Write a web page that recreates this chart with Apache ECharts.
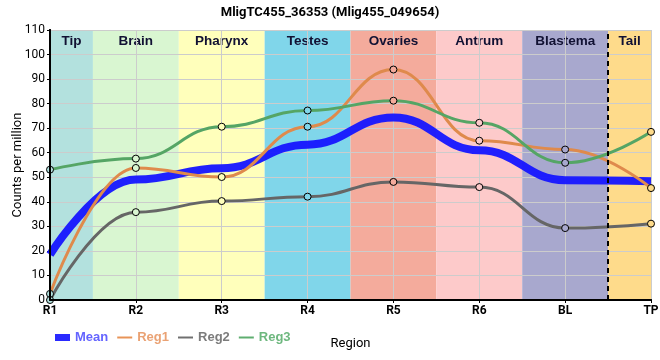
<!DOCTYPE html>
<html><head><meta charset="utf-8">
<script src="https://cdn.jsdelivr.net/npm/echarts@6/dist/echarts.min.js"></script>
<style>html,body{margin:0;padding:0;background:#fff}#c{width:660px;height:360px}</style>
</head><body><div id="c"></div>
<script>
var categories = ['R1','R2','R3','R4','R5','R6','BL','TP'];
var meanVals = [18.5, 49.1, 53.7, 63.3, 74.4, 61.0, 48.8, 48.4];
var reg1Vals = [2.5, 53.8, 50.1, 70.6, 93.9, 64.9, 61.3, 45.6];
var reg2Vals = [0, 35.8, 40.3, 42.1, 48.1, 46.0, 29.3, 31.1];
var reg3Vals = [53.1, 57.6, 70.6, 77.2, 81.2, 72.2, 55.9, 68.5];
var regions = ['Tip','Brain','Pharynx','Testes','Ovaries','Antrum','Blastema','Tail'];
var regionColors = ['#b3e1de','#d9f6d1','#ffffbb','#80d6ea','#f4ab9c','#fdcaca','#a8a8ce','#fedb8b'];

function pts(v){ return v.map(function(y,i){ return [i,y]; }); }

var bands = regions.map(function(r,i){
  return [{name:r, xAxis: Math.max(0,i-0.5), itemStyle:{color:regionColors[i]}},
          {xAxis: Math.min(categories.length-1, i+0.5)}];
});

var chart = echarts.init(document.getElementById('c'), null, {renderer:'canvas'});
var axisFont = {color:'#000', fontFamily:'Roboto, Arial, sans-serif', fontWeight:'bold', fontSize:12};
var markerStyle = {color:function(p){ return regionColors[p.dataIndex]; }, borderColor:'#000', borderWidth:1, opacity:1};
chart.setOption({
  animation:false,
  title:{text:'MligTC455_36353 (Mlig455_049654)', left:'center', top:1,
    textStyle:{fontSize:13, fontWeight:'bold', color:'#000', fontFamily:'Roboto, Arial, sans-serif'}},
  grid:{left:50, right:9, top:30, bottom:60, containLabel:false, outerBoundsMode:'none'},
  legend:{left:50, top:326, itemWidth:15, itemHeight:7, itemGap:9,
    textStyle:{fontSize:13, fontWeight:'bold', fontFamily:'Arial, "Liberation Sans", sans-serif'},
    data:[
      {name:'Mean', icon:'rect', itemStyle:{color:'#2a2aff', borderWidth:0}, textStyle:{color:'#6464ff'}},
      {name:'Reg1', icon:'path://M0 0H30V4H0Z', itemStyle:{color:'#e89458', borderWidth:0}, textStyle:{color:'#eaa274'}},
      {name:'Reg2', icon:'path://M0 0H30V4H0Z', itemStyle:{color:'#707070', borderWidth:0}, textStyle:{color:'#7c7c7c'}},
      {name:'Reg3', icon:'path://M0 0H30V4H0Z', itemStyle:{color:'#5fae70', borderWidth:0}, textStyle:{color:'#6eb87f'}}
    ]},
  xAxis:[{type:'value', min:0, max:categories.length-1, interval:1,
    name:'Region', nameLocation:'middle', nameGap:37, nameMoveOverlap:false,
    nameTextStyle:{color:'#000', fontSize:13, fontFamily:'Roboto, Arial, sans-serif'},
    axisLine:{show:true, onZero:false, lineStyle:{color:'#000', width:2}},
    axisTick:{show:true, length:3, lineStyle:{color:'#000'}},
    axisLabel:Object.assign({formatter:function(v){return categories[v]||'';}, margin:5}, axisFont),
    splitLine:{show:true, lineStyle:{color:'#cccccc', width:1}}, z:1},
    {type:'value', position:'top', min:0, max:categories.length-1,
     axisLine:{show:true, lineStyle:{color:'#000', width:2}}, axisTick:{show:false},
     axisLabel:{show:false}, splitLine:{show:false}, z:10}],
  yAxis:[{type:'value', min:0, max:110, interval:10,
    name:'Counts per million', nameLocation:'middle', nameGap:26, nameMoveOverlap:false,
    nameTextStyle:{color:'#000', fontSize:13, fontFamily:'Roboto, Arial, sans-serif'},
    axisLine:{show:true, lineStyle:{color:'#000', width:2}},
    axisTick:{show:true, length:3, lineStyle:{color:'#000'}},
    axisLabel:Object.assign({margin:5}, axisFont, {fontWeight:'normal'}),
    splitLine:{show:true, lineStyle:{color:'#cccccc', width:1}}, z:1},
    {type:'value', position:'right', min:0, max:110,
     axisLine:{show:true, lineStyle:{color:'#000', width:2}}, axisTick:{show:false},
     axisLabel:{show:false}, splitLine:{show:false}, z:10}],
  series:[
    {type:'line', name:'bands', data:[], silent:true, z:0,
     markArea:{silent:true, z:0, label:{show:true, position:'insideTop', distance:4, color:'#111133',
        fontWeight:'bold', fontSize:13.5, fontFamily:'Arial, "Liberation Sans", sans-serif'},
       data:bands},
     markLine:{silent:true, z:6, symbol:'none', label:{show:false},
       lineStyle:{color:'#000', type:[5,4], width:2},
       data:[{xAxis: categories.length-1.5}]}},
    {type:'line', name:'Mean', data:pts(meanVals), smooth:0.45, smoothMonotone:'x', showSymbol:false,
     color:'#1515ff', lineStyle:{color:'#1515ff', width:8, opacity:0.95}, z:3},
    {type:'line', name:'Reg1', data:pts(reg1Vals), smooth:0.45, smoothMonotone:'x', symbol:'circle', symbolSize:7,
     color:'#df8a4c', lineStyle:{color:'#df8a4c', width:3}, itemStyle:markerStyle, z:4},
    {type:'line', name:'Reg2', data:pts(reg2Vals), smooth:0.45, smoothMonotone:'x', symbol:'circle', symbolSize:7,
     color:'#666666', lineStyle:{color:'#666666', width:3}, itemStyle:markerStyle, z:4},
    {type:'line', name:'Reg3', data:pts(reg3Vals), smooth:0.45, smoothMonotone:'x', symbol:'circle', symbolSize:7,
     color:'#55a565', lineStyle:{color:'#55a565', width:3}, itemStyle:markerStyle, z:4}
  ]
});
</script></body></html>
